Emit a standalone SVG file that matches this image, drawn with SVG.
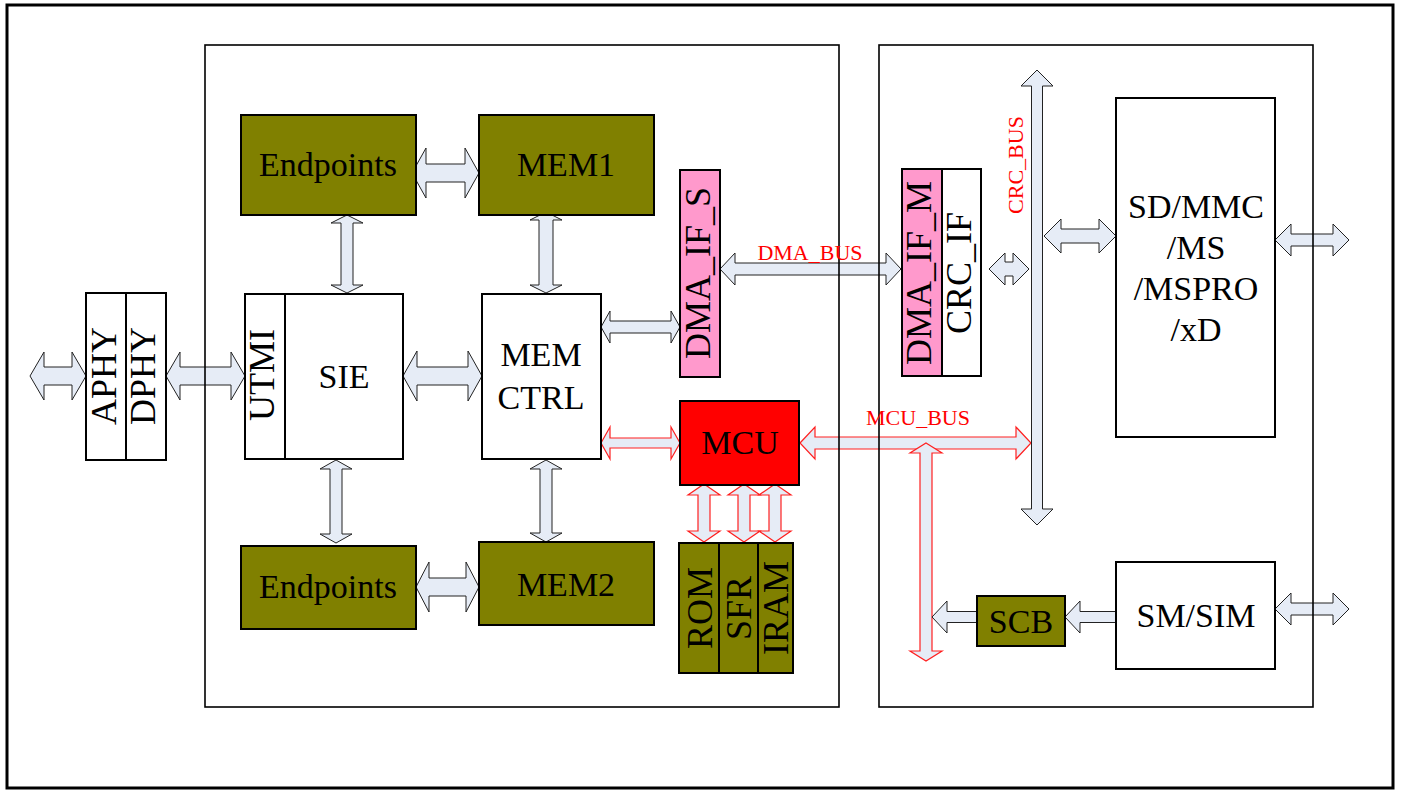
<svg xmlns="http://www.w3.org/2000/svg" width="1402" height="791" viewBox="0 0 1402 791">
<style>
.t{font-family:"Liberation Serif","Times New Roman",serif;font-size:34px;fill:#000;text-anchor:middle}
.r{font-family:"Liberation Serif","Times New Roman",serif;font-size:36px;fill:#000;text-anchor:middle}
.bl{font-family:"Liberation Serif","Times New Roman",serif;font-size:22px;fill:#FF0000;text-anchor:middle}
.box{stroke:#000;stroke-width:2}
.ol{fill:#808000}
.wh{fill:#fff}
.pk{fill:#FF99CC}
.rd{fill:#FF0000}
.frame{fill:none;stroke:#000;stroke-width:1.6}
.ar{fill:#E6ECF6;stroke:#222;stroke-width:1}
.arr{fill:#E6ECF6;stroke:#FF2020;stroke-width:1.2}
</style>
<rect x="0" y="0" width="1402" height="791" fill="#fff"/>
<rect x="7" y="5" width="1386" height="783" fill="none" stroke="#000" stroke-width="3"/>

<g id="connectors">
<path class="ar" d="M30,376 L44,352 L44,367 L72,367 L72,352 L86,376 L72,400 L72,385 L44,385 L44,400 Z"/>
<path class="ar" d="M166,376 L180,352 L180,367 L231,367 L231,352 L245,376 L231,400 L231,385 L180,385 L180,400 Z"/>
<path class="ar" d="M412,173 L426,148 L426,164 L465,164 L465,148 L479,173 L465,198 L465,182 L426,182 L426,198 Z"/>
<path class="ar" d="M347,215 L363,223 L353,223 L353,285 L363,285 L347,293 L331,285 L341,285 L341,223 L331,223 Z"/>
<path class="ar" d="M546,212 L562,220 L553,220 L553,285 L562,285 L546,293 L530,285 L539,285 L539,220 L530,220 Z"/>
<path class="ar" d="M403,376 L417,351 L417,367 L468,367 L468,351 L482,376 L468,401 L468,385 L417,385 L417,401 Z"/>
<path class="ar" d="M601,327 L610,311 L610,321 L671,321 L671,311 L680,327 L671,343 L671,333 L610,333 L610,343 Z"/>
<path class="arr" d="M601,443 L610,427 L610,438 L671,438 L671,427 L680,443 L671,459 L671,448 L610,448 L610,459 Z"/>
<path class="ar" d="M336,460 L352,469 L342,469 L342,534 L352,534 L336,543 L320,534 L330,534 L330,469 L320,469 Z"/>
<path class="ar" d="M546,460 L562,469 L552,469 L552,533 L562,533 L546,542 L530,533 L540,533 L540,469 L530,469 Z"/>
<path class="ar" d="M416,587 L429,562 L429,578 L466,578 L466,562 L479,587 L466,612 L466,596 L429,596 L429,612 Z"/>
<path class="arr" d="M704,484 L720,495 L710,495 L710,531 L720,531 L704,542 L688,531 L698,531 L698,495 L688,495 Z"/>
<path class="arr" d="M744,484 L760,495 L750,495 L750,531 L760,531 L744,542 L728,531 L738,531 L738,495 L728,495 Z"/>
<path class="arr" d="M775,484 L791,495 L781,495 L781,531 L791,531 L775,542 L759,531 L769,531 L769,495 L759,495 Z"/>
<path class="ar" d="M720,269 L735,253 L735,263 L886,263 L886,253 L901,269 L886,285 L886,275 L735,275 L735,285 Z"/>
<path class="ar" d="M989,269 L1005,253 L1005,262 L1013,262 L1013,253 L1029,269 L1013,285 L1013,276 L1005,276 L1005,285 Z"/>
<path class="ar" d="M1044,236 L1061,219 L1061,229 L1099,229 L1099,219 L1116,236 L1099,253 L1099,243 L1061,243 L1061,253 Z"/>
<path class="arr" d="M800,443 L815,427 L815,437 L1016,437 L1016,427 L1031,443 L1016,459 L1016,449 L815,449 L815,459 Z"/>
<path class="ar" d="M1037,70 L1053,86 L1042.5,86 L1042.5,509 L1053,509 L1037,525 L1021,509 L1031.5,509 L1031.5,86 L1021,86 Z"/>
<path class="arr" d="M926,443 L942,453 L932,453 L932,651 L942,651 L926,661 L910,651 L920,651 L920,453 L910,453 Z"/>
<path class="ar" d="M932,617 L947,601 L947,611.5 L977,611.5 L977,622.5 L947,622.5 L947,633 Z"/>
<path class="ar" d="M1065,617 L1080,601 L1080,611.5 L1116,611.5 L1116,622.5 L1080,622.5 L1080,633 Z"/>
<path class="ar" d="M1275,240 L1291,224 L1291,234 L1333,234 L1333,224 L1349,240 L1333,256 L1333,246 L1291,246 L1291,256 Z"/>
<path class="ar" d="M1275,609 L1291,593 L1291,603 L1333,603 L1333,593 L1349,609 L1333,625 L1333,615 L1291,615 L1291,625 Z"/>
</g>

<g id="containers">
<rect class="frame" x="205" y="45" width="634" height="662"/>
<rect class="frame" x="879" y="45" width="434" height="662"/>
</g>

<g id="labels">
<text class="bl" x="810" y="260">DMA_BUS</text>
<text class="bl" x="918" y="425">MCU_BUS</text>
<text class="bl" transform="translate(1023,165) rotate(-90)">CRC_BUS</text>
</g>

<g id="phy">
<rect class="box wh" x="86" y="293" width="40" height="167"/>
<rect class="box wh" x="126" y="293" width="40" height="167"/>
<text class="r" transform="translate(116,376) rotate(-90)">APHY</text>
<text class="r" transform="translate(155,376) rotate(-90)">DPHY</text>
</g>

<g id="utmi-sie">
<rect class="box wh" x="245" y="294" width="158" height="165"/>
<line x1="285" y1="294" x2="285" y2="459" stroke="#000" stroke-width="2"/>
<text class="r" transform="translate(274,375) rotate(-90)">UTMI</text>
<text class="t" x="344" y="388">SIE</text>
</g>

<g id="endpoints1">
<rect class="box ol" x="241" y="115" width="175" height="100"/>
<text class="t" x="328" y="176">Endpoints</text>
</g>

<g id="mem1">
<rect class="box ol" x="479" y="115" width="175" height="100"/>
<text class="t" x="566" y="176">MEM1</text>
</g>

<g id="memctrl">
<rect class="box wh" x="482" y="294" width="119" height="165"/>
<text class="t" x="541" y="366">MEM</text>
<text class="t" x="541" y="409">CTRL</text>
</g>

<g id="endpoints2">
<rect class="box ol" x="241" y="546" width="175" height="83"/>
<text class="t" x="328" y="598">Endpoints</text>
</g>

<g id="mem2">
<rect class="box ol" x="479" y="542" width="175" height="83"/>
<text class="t" x="566" y="596">MEM2</text>
</g>

<g id="dma-if-s">
<rect class="box pk" x="680" y="170" width="40" height="207"/>
<text class="r" transform="translate(710,273) rotate(-90)">DMA_IF_S</text>
</g>

<g id="mcu">
<rect class="box rd" x="680" y="401" width="119" height="84"/>
<text class="t" x="740" y="454">MCU</text>
</g>

<g id="rom-sfr-iram">
<rect class="box ol" x="679" y="543" width="40" height="130"/>
<rect class="box ol" x="719" y="543" width="39" height="130"/>
<rect class="box ol" x="758" y="543" width="35" height="130"/>
<text class="r" transform="translate(712,608) rotate(-90)">ROM</text>
<text class="r" transform="translate(751,608) rotate(-90)">SFR</text>
<text class="r" transform="translate(788,608) rotate(-90)">IRAM</text>
</g>

<g id="dma-if-m">
<rect class="box pk" x="902" y="169" width="40" height="207"/>
<rect class="box wh" x="942" y="169" width="39" height="207"/>
<text class="r" transform="translate(931,273) rotate(-90)">DMA_IF_M</text>
<text class="r" transform="translate(971,273) rotate(-90)">CRC_IF</text>
</g>

<g id="sdmmc">
<rect class="box wh" x="1116" y="98" width="159" height="339"/>
<text class="t" x="1196" y="218">SD/MMC</text>
<text class="t" x="1196" y="259">/MS</text>
<text class="t" x="1196" y="300">/MSPRO</text>
<text class="t" x="1196" y="341">/xD</text>
</g>

<g id="scb">
<rect class="box ol" x="977" y="596" width="88" height="50"/>
<text class="t" x="1021" y="633">SCB</text>
</g>

<g id="smsim">
<rect class="box wh" x="1116" y="562" width="159" height="107"/>
<text class="t" x="1196" y="627">SM/SIM</text>
</g>
</svg>
